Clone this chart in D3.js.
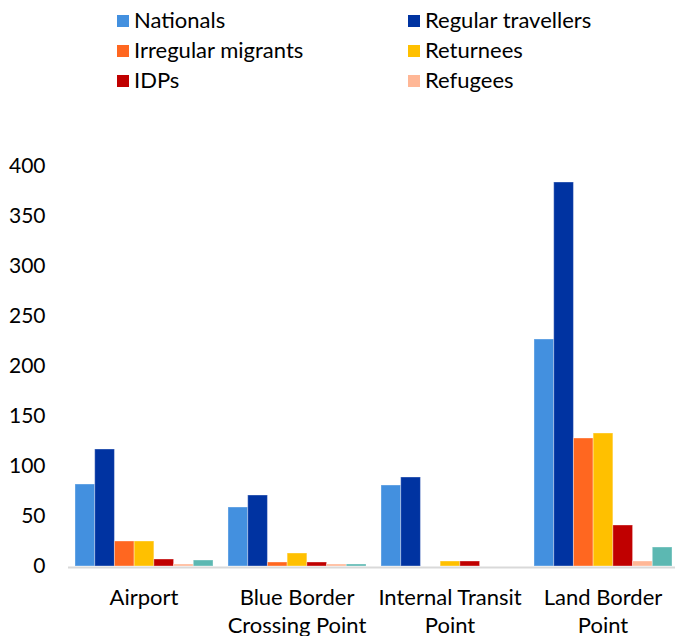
<!DOCTYPE html>
<html>
<head>
<meta charset="utf-8">
<script src="https://cdn.jsdelivr.net/npm/d3@7"></script>
<style>
  html, body { margin: 0; padding: 0; background: #fff; }
  svg { display: block; }
  text { font-family: Lato, "Open Sans", sans-serif; fill: #000; }
</style>
</head>
<body>
<svg id="chart" width="675" height="636"></svg>
<script>
// Categories (x-axis), with line breaks as they appear under each group
const categories = ["Airport", "Blue Border\nCrossing Point", "Internal Transit\nPoint", "Land Border\nPoint"];

// Series names and colours
const seriesNames = ["Nationals", "Regular travellers", "Irregular migrants", "Returnees", "IDPs", "Refugees", "Other"];
const seriesColors = ["#4390DF", "#0033A1", "#FF6720", "#FFC000", "#C00000", "#FFB796", "#5CB8B2"];
// Only these series are listed in the legend
const legendSeries = ["Nationals", "Regular travellers", "Irregular migrants", "Returnees", "IDPs", "Refugees"];

// Values per series, in category order
const nationals         = [82, 59, 81, 227];
const regularTravellers = [117, 71, 89, 384];
const irregularMigrants = [25, 4, 0, 128];
const returnees         = [25, 13, 5, 133];
const idps              = [7, 4, 5, 41];
const refugees          = [2, 2, 0, 5];
const other             = [6, 2, 0, 19];

// Y-axis tick labels
const yTicks = [0, 50, 100, 150, 200, 250, 300, 350, 400];

const seriesValues = [nationals, regularTravellers, irregularMigrants, returnees, idps, refugees, other];

const svg = d3.select("#chart");

const y = d3.scaleLinear().domain([0, 400]).range([566, 166]);

const x0 = d3.scaleBand()
  .domain(categories)
  .range([67.5, 679.5])
  .paddingInner(0.098)
  .paddingOuter(0.049);

const x1 = d3.scaleBand()
  .domain(seriesNames)
  .range([0, x0.bandwidth()]);

const color = d3.scaleOrdinal().domain(seriesNames).range(seriesColors);

// Bars
const groups = svg.append("g")
  .selectAll("g")
  .data(categories)
  .join("g")
  .attr("transform", d => `translate(${x0(d)},0)`);

groups.selectAll("rect")
  .data((c, i) => seriesNames.map((s, j) => ({ series: s, value: seriesValues[j][i] })))
  .join("rect")
  .attr("x", d => x1(d.series))
  .attr("width", x1.bandwidth())
  .attr("y", d => y(d.value))
  .attr("height", d => y(0) - y(d.value))
  .attr("fill", d => color(d.series))
  .attr("stroke", "rgba(255,255,255,0.35)")
  .attr("stroke-width", 1);

// X axis
const xAxis = svg.append("g")
  .attr("transform", `translate(0,${y(0) + 1})`)
  .call(d3.axisBottom(x0).tickSize(0).tickSizeOuter(0).tickPadding(0));

xAxis.select(".domain")
  .attr("stroke", "#D9D9D9")
  .attr("stroke-width", 2);

xAxis.selectAll(".tick text")
  .attr("font-size", 22)
  .attr("y", 0)
  .attr("dy", null)
  .each(function(d) {
    const t = d3.select(this);
    t.text(null);
    d.split("\n").forEach((line, k) => {
      t.append("tspan")
        .attr("x", 0)
        .attr("y", 38 + k * 28)
        .text(line);
    });
  });

// Y axis
const yAxis = svg.append("g")
  .attr("transform", "translate(67.5,0)")
  .call(d3.axisLeft(y).tickValues(yTicks).tickSize(0).tickPadding(22));

yAxis.select(".domain").remove();
yAxis.selectAll(".tick text").attr("font-size", 21);

// Legend: two columns, three rows
const legend = svg.append("g");
const legendItems = legend.selectAll("g")
  .data(legendSeries)
  .join("g")
  .attr("transform", (d, i) => `translate(${i % 2 === 0 ? 117 : 408},${15 + Math.floor(i / 2) * 30})`);

legendItems.append("rect")
  .attr("width", 12)
  .attr("height", 12)
  .attr("fill", d => color(d));

legendItems.append("text")
  .attr("x", 17)
  .attr("y", 13)
  .attr("font-size", 22)
  .text(d => d);
</script>
</body>
</html>
